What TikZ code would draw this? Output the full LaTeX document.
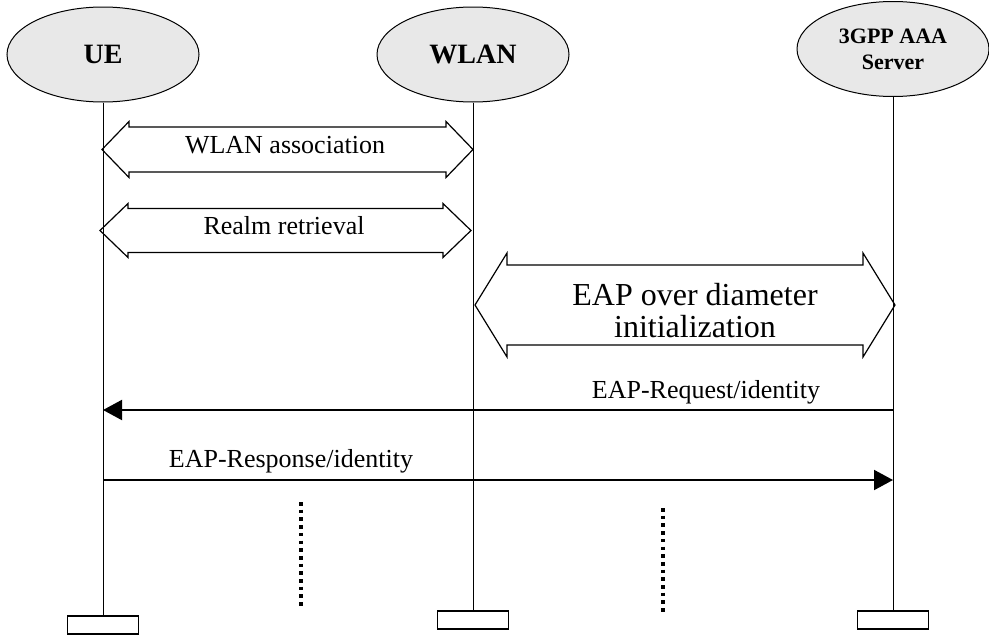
\documentclass[tikz,border=0pt]{standalone}
\usepackage{fontspec}
\setmainfont{Liberation Serif}
\usetikzlibrary{arrows.meta,shapes.geometric}
\newcommand{\blockarr}[7]{% name, xl, xr, yc, shaft half, head half, head length
  \draw[blockarrow] (#2,#4) -- (#2+#7,#4-#6) -- (#2+#7,#4-#5) -- (#3-#7,#4-#5) -- (#3-#7,#4-#6)
    -- (#3,#4) -- (#3-#7,#4+#6) -- (#3-#7,#4+#5) -- (#2+#7,#4+#5) -- (#2+#7,#4+#6) -- cycle;
  \coordinate (#1) at ({(#2+#3)/2},#4);
}
\begin{document}
\begin{tikzpicture}[x=1pt,y=-1pt,
  entity/.style={draw,line width=1pt,fill=black!9,ellipse,minimum width=192pt,minimum height=95pt,inner sep=0pt,align=center,font=\bfseries\fontsize{28}{30}\selectfont},
  endbox/.style={draw,line width=1.3pt,fill=white,minimum width=71pt,minimum height=18pt,inner sep=0pt},
  lifeline/.style={line width=0.9pt},
  blockarrow/.style={line width=1.2pt,line join=miter},
  msg/.style={line width=2pt,-{Triangle[length=19pt,width=20pt]}},
  lbl/.style={inner sep=0pt,font=\fontsize{26}{30}\selectfont},
  biglbl/.style={inner sep=0pt,font=\fontsize{32}{34}\selectfont},
  dots/.style={line width=3.6pt,dash pattern=on 3.6pt off 4.1pt}]
\useasboundingbox (0,0) rectangle (989,635);
% entities
\node[entity] (ue) at (103,54.5) {UE};
\node[entity] (wlan) at (473,54.5) {WLAN};
\node[entity,font=\bfseries\fontsize{22}{26}\selectfont] (aaa) at (893,49) {3GPP AAA\\Server};
% end boxes
\node[endbox] (ueb) at (103,625) {};
\node[endbox] (wlanb) at (473,620) {};
\node[endbox] (aaab) at (893,620) {};
% lifelines
\draw[lifeline] (ue) -- (ueb);
\draw[lifeline] (wlan) -- (wlanb);
\draw[lifeline] (aaa) -- (aaab);
% block arrows
\blockarr{a1}{102}{473}{149.5}{22.5}{28}{27}
\blockarr{a2}{100}{471}{230.5}{22}{27}{28}
\blockarr{a3}{475}{895}{305}{40}{52}{32}
\node[lbl,anchor=base] (t1) at (285,153) {WLAN association};
\node[lbl,anchor=base] (t2) at (284,234) {Realm retrieval};
\node[biglbl,anchor=base] (t3) at (695,305) {EAP over diameter};
\node[biglbl,anchor=base] (t4) at (695,337) {initialization};
% messages
\coordinate (r1) at (aaa.center |- 0,410);
\coordinate (r2) at (ue.center |- 0,410);
\coordinate (s1) at (ue.center |- 0,480);
\coordinate (s2) at (aaa.center |- 0,480);
\draw[msg] (r1) -- (r2);
\draw[msg] (s1) -- (s2);
\node[lbl,anchor=base] (m1) at (706,398) {EAP-Request/identity};
\node[lbl,anchor=base] (m2) at (291,467) {EAP-Response/identity};
% continuation dots
\coordinate (d1a) at (301,502);
\coordinate (d1b) at (301,606);
\coordinate (d2a) at (663,508);
\coordinate (d2b) at (663,612);
\draw[dots] (d1a) -- (d1b);
\draw[dots] (d2a) -- (d2b);
\end{tikzpicture}
\end{document}
